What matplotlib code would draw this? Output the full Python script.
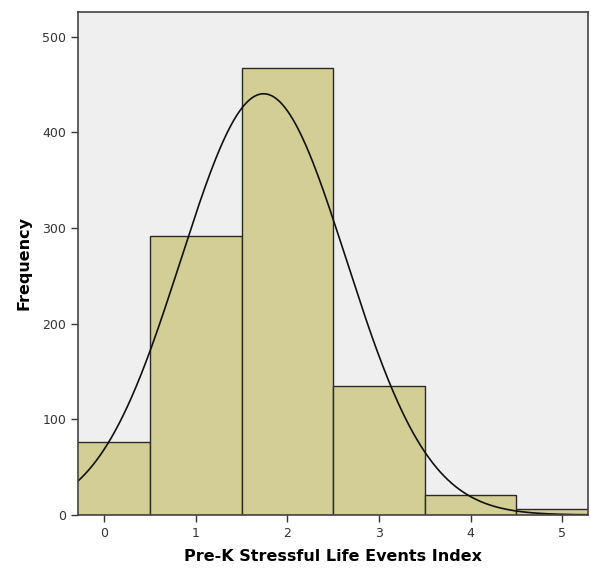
import numpy as np
import matplotlib.pyplot as plt

# Histogram data (bin centres and counts)
categories = [0, 1, 2, 3, 4, 5]
counts = [76, 292, 467, 135, 21, 6]
# Fitted normal curve parameters
mean = 1.74
sd = 0.903
n_total = sum(counts)

fig = plt.figure(figsize=(5.91, 5.69), dpi=100)
ax = fig.add_axes([0.132, 0.095, 0.8624, 0.884])
ax.set_facecolor('#efefef')

ax.bar(categories, counts, width=1.0, color='#d3ce95', edgecolor='#2a2a2a', linewidth=1.0)

x = np.linspace(-0.3, 5.3, 400)
y = n_total / (sd * np.sqrt(2 * np.pi)) * np.exp(-(x - mean) ** 2 / (2 * sd ** 2))
ax.plot(x, y, color='#111111', linewidth=1.2)

ax.set_xlim(-0.287, 5.28)
ax.set_ylim(0, 526)
ax.set_xticks(categories)
ax.set_yticks([0, 100, 200, 300, 400, 500])
ax.tick_params(direction='out', length=5, width=1, labelsize=9, colors='#333333')

for s in ax.spines.values():
    s.set_color('#444444')
    s.set_linewidth(1.2)

ax.set_xlabel('Pre-K Stressful Life Events Index', fontsize=11.5, fontweight='bold', labelpad=7)
ax.set_ylabel('Frequency', fontsize=11.5, fontweight='bold', labelpad=8)

fig.savefig('out.png', dpi=100)
